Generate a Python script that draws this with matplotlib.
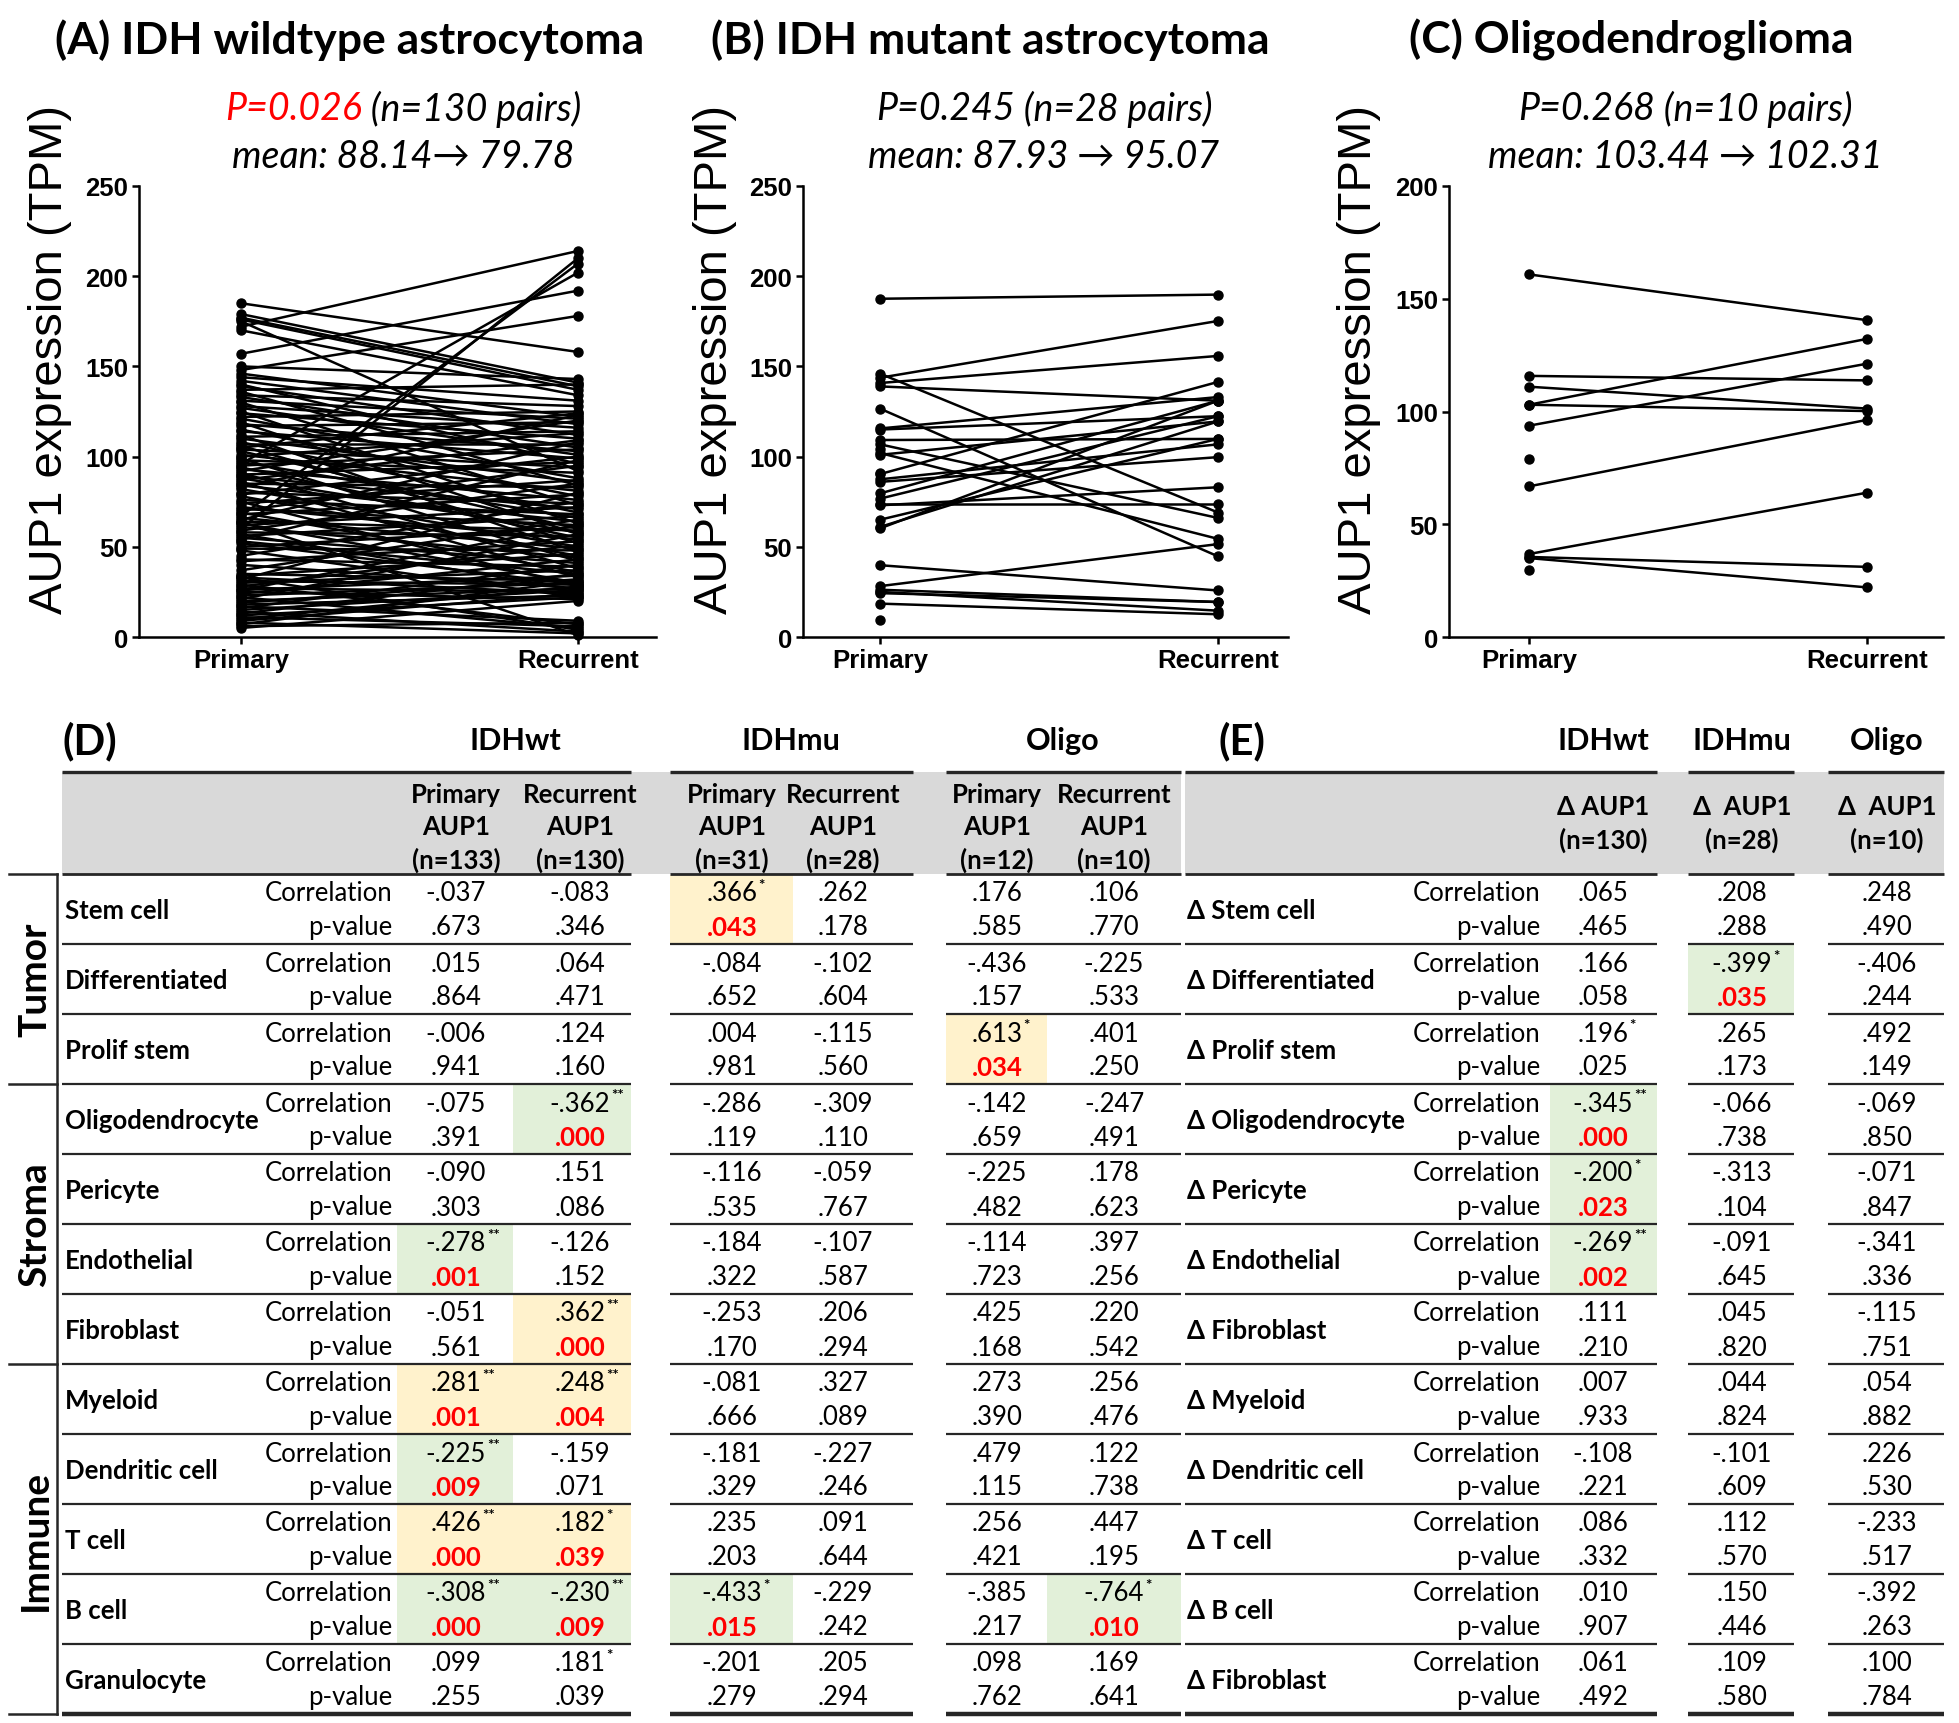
import matplotlib
matplotlib.use('Agg')
import matplotlib.pyplot as plt
import numpy as np
from matplotlib.patches import Rectangle

W, H = 1959, 1724
plt.rcParams['font.family'] = ['Lato', 'DejaVu Sans']

# ---------------- data: paired plots ----------------
primary_A = [185, 179, 177, 176, 175, 172, 170, 157, 150, 148, 146, 144, 142, 140, 139, 137, 136, 134, 133, 131,
             130, 128, 127, 125, 124, 122, 121, 119, 118, 117, 115, 114, 112, 111, 110, 108, 107, 106, 105, 104,
             103, 101, 100, 99, 98, 97, 96, 95, 94, 93, 92, 91, 90, 89, 88, 87, 86, 85, 84, 83,
             82, 80, 79, 78, 76, 75, 74, 72, 71, 70, 69, 68, 66, 65, 64, 63, 62, 61, 60, 59,
             58, 57, 56, 55, 54, 53, 50, 49, 48, 45, 43, 42, 40, 37, 35, 34, 33, 32, 31, 30,
             29, 28, 27, 26, 25, 24, 23, 22, 21, 20, 19, 18, 17, 16, 15, 14, 13, 12, 11, 10,
             9, 8, 7, 6, 5, 33, 64, 52, 26, 67]
recurrent_A = [158, 141, 139, 137, 92, 214, 134, 192, 143, 178, 122, 131, 118, 96, 112, 140, 84, 128, 105, 121,
               73, 116, 101, 63, 110, 125, 88, 57, 103, 119, 78, 99, 47, 114, 86, 69, 107, 52, 124, 94,
               60, 81, 113, 42, 91, 66, 202, 104, 55, 76, 120, 38, 97, 71, 58, 109, 33, 83, 64, 123,
               50, 74, 100, 45, 68, 28, 87, 54, 62, 95, 36, 79, 49, 108, 59, 30, 72, 44, 210, 85,
               56, 26, 67, 41, 98, 35, 61, 48, 22, 75, 39, 53, 27, 65, 31, 46, 24, 80, 29, 37,
               7, 51, 25, 34, 21, 43, 30, 5, 57, 27, 32, 23, 9, 40, 26, 3, 35, 22, 6, 28,
               24, 2, 31, 8, 20, 4, 1, 29, 62, 207]
primary_only_A = []

primary_B = [187.5, 146, 143.7, 140.8, 138.9, 126.6, 115.6, 115, 109.2, 106.8, 102, 101, 90.3, 87.4, 86,
             79.6, 76.7, 73.8, 73, 65, 61, 60.2, 39.8, 28.2, 26.2, 25, 24.3, 18.5]
recurrent_B = [189.8, 69, 175.2, 155.8, 131, 44.7, 133, 122.4, 109.8, 66, 54.4, 119.5, 141.4, 106.8, 99.7,
               131, 122.4, 73.8, 83, 109.8, 119.5, 131, 25.8, 51.5, 19.4, 14.6, 19.4, 12.6]
primary_only_B = [9.7, 104, 91]

primary_C = [160.8, 115.8, 111, 103, 103, 93.7, 66.8, 36.8, 35.5, 35]
recurrent_C = [140.5, 113.8, 101.3, 132.2, 100.2, 121.2, 96.3, 64, 31.1, 22]
primary_only_C = [78.8, 29.8]

x_labels = ["Primary", "Recurrent"]
titles = ["(A) IDH wildtype astrocytoma", "(B) IDH mutant astrocytoma", "(C) Oligodendroglioma"]
p_texts = ["P=0.026", "P=0.245", "P=0.268"]
n_texts = [" (n=130 pairs)", " (n=28 pairs)", " (n=10 pairs)"]
mean_texts = ["mean: 88.14\u2192 79.78", "mean: 87.93 \u2192 95.07", "mean: 103.44 \u2192 102.31"]
p_colors = ["#FF0000", "black", "black"]
y_max = [250, 250, 200]

# ---------------- data: tables ----------------
cell_types = ["Stem cell", "Differentiated", "Prolif stem", "Oligodendrocyte", "Pericyte", "Endothelial",
              "Fibroblast", "Myeloid", "Dendritic cell", "T cell", "B cell", "Granulocyte"]
delta_types = ["\u0394 Stem cell", "\u0394 Differentiated", "\u0394 Prolif stem", "\u0394 Oligodendrocyte",
               "\u0394 Pericyte", "\u0394 Endothelial", "\u0394 Fibroblast", "\u0394 Myeloid",
               "\u0394 Dendritic cell", "\u0394 T cell", "\u0394 B cell", "\u0394 Fibroblast"]
sections = ["Tumor", "Stroma", "Immune"]
section_rows = [(0, 3), (3, 7), (7, 12)]

groups_D = ["IDHwt", "IDHmu", "Oligo"]
headers_D = [("Primary", "AUP1", "(n=133)"), ("Recurrent", "AUP1", "(n=130)"),
             ("Primary", "AUP1", "(n=31)"), ("Recurrent", "AUP1", "(n=28)"),
             ("Primary", "AUP1", "(n=12)"), ("Recurrent", "AUP1", "(n=10)")]
corr_D = [
    [-.037, -.083, .366, .262, .176, .106],
    [.015, .064, -.084, -.102, -.436, -.225],
    [-.006, .124, .004, -.115, .613, .401],
    [-.075, -.362, -.286, -.309, -.142, -.247],
    [-.090, .151, -.116, -.059, -.225, .178],
    [-.278, -.126, -.184, -.107, -.114, .397],
    [-.051, .362, -.253, .206, .425, .220],
    [.281, .248, -.081, .327, .273, .256],
    [-.225, -.159, -.181, -.227, .479, .122],
    [.426, .182, .235, .091, .256, .447],
    [-.308, -.230, -.433, -.229, -.385, -.764],
    [.099, .181, -.201, .205, .098, .169],
]
pval_D = [
    [.673, .346, .043, .178, .585, .770],
    [.864, .471, .652, .604, .157, .533],
    [.941, .160, .981, .560, .034, .250],
    [.391, .000, .119, .110, .659, .491],
    [.303, .086, .535, .767, .482, .623],
    [.001, .152, .322, .587, .723, .256],
    [.561, .000, .170, .294, .168, .542],
    [.001, .004, .666, .089, .390, .476],
    [.009, .071, .329, .246, .115, .738],
    [.000, .039, .203, .644, .421, .195],
    [.000, .009, .015, .242, .217, .010],
    [.255, .039, .279, .294, .762, .641],
]
highlight_D = [(0, 2, 'y'), (2, 4, 'y'), (3, 1, 'g'), (5, 0, 'g'), (6, 1, 'y'), (7, 0, 'y'), (7, 1, 'y'),
               (8, 0, 'g'), (9, 0, 'y'), (9, 1, 'y'), (10, 0, 'g'), (10, 1, 'g'), (10, 2, 'g'), (10, 5, 'g')]

groups_E = ["IDHwt", "IDHmu", "Oligo"]
headers_E = [("\u0394 AUP1", "(n=130)"), ("\u0394  AUP1", "(n=28)"), ("\u0394  AUP1", "(n=10)")]
corr_E = [
    [.065, .208, .248],
    [.166, -.399, -.406],
    [.196, .265, .492],
    [-.345, -.066, -.069],
    [-.200, -.313, -.071],
    [-.269, -.091, -.341],
    [.111, .045, -.115],
    [.007, .044, .054],
    [-.108, -.101, .226],
    [.086, .112, -.233],
    [.010, .150, -.392],
    [.061, .109, .100],
]
pval_E = [
    [.465, .288, .490],
    [.058, .035, .244],
    [.025, .173, .149],
    [.000, .738, .850],
    [.023, .104, .847],
    [.002, .645, .336],
    [.210, .820, .751],
    [.933, .824, .882],
    [.221, .609, .530],
    [.332, .570, .517],
    [.907, .446, .263],
    [.492, .580, .784],
]
highlight_E = [(1, 1, 'g'), (3, 0, 'g'), (4, 0, 'g'), (5, 0, 'g')]

HL = {'y': '#FFF2CC', 'g': '#E2F0D9'}
RED = '#FF0000'
LINEC = '#262626'

# ---------------- figure ----------------
fig = plt.figure(figsize=(W / 100, H / 100), dpi=100)
fig.patch.set_facecolor('white')


def fx(x):
    return x / W


def fy(y):
    return 1 - y / H


def axes_px(l, r, t, b):
    return fig.add_axes([l / W, 1 - b / H, (r - l) / W, (b - t) / H])


renderer = fig.canvas.get_renderer()


def rich_center(x, y, parts, **kw):
    texts, widths = [], []
    for s, c in parts:
        t = fig.text(0, 0, s, color=c, ha='left', va='center', **kw)
        widths.append(t.get_window_extent(renderer).width)
        texts.append(t)
    start = x - sum(widths) / 2
    for t, w in zip(texts, widths):
        t.set_position((fx(start), fy(y)))
        start += w


# layout (pixels) for the three plots
plot_layout = [
    dict(l=139, r=656, p=241, rc=578, tx=350, sx=403, yl=50),
    dict(l=803, r=1288, p=880, rc=1218, tx=990, sx=1044, yl=715),
    dict(l=1449, r=1943, p=1529, rc=1867, tx=1631, sx=1685, yl=1359),
]
plot_data = [(primary_A, recurrent_A, primary_only_A),
             (primary_B, recurrent_B, primary_only_B),
             (primary_C, recurrent_C, primary_only_C)]
TOP, BOT = 187, 638

for i, (lay, (prim, rec, only)) in enumerate(zip(plot_layout, plot_data)):
    ax = axes_px(lay['l'], lay['r'], TOP, BOT)
    ax.set_facecolor('none')
    for p, r in zip(prim, rec):
        ax.plot([0, 1], [p, r], color='black', lw=1.8, marker='o', ms=6.5, clip_on=False)
    if len(only):
        ax.plot(np.zeros(len(only)), only, 'o', color='black', ms=6.5, clip_on=False)
    span = lay['rc'] - lay['p']
    ax.set_xlim((lay['l'] - lay['p']) / span, (lay['r'] - lay['p']) / span)
    ax.set_ylim(0, y_max[i])
    ax.set_yticks(np.arange(0, y_max[i] + 1, 50))
    ax.set_xticks([0, 1])
    ax.set_xticklabels(x_labels)
    for s in ['top', 'right']:
        ax.spines[s].set_visible(False)
    for s in ['left', 'bottom']:
        ax.spines[s].set_linewidth(1.8)
    ax.tick_params(direction='out', length=5, width=1.8, labelsize=18.5, pad=3)
    for lab in ax.get_xticklabels() + ax.get_yticklabels():
        lab.set_fontfamily('Liberation Sans')
        lab.set_fontweight('bold')
    fig.text(fx(lay['yl']), fy(359), "AUP1 expression (TPM)", rotation=90, ha='center', va='center',
             fontsize=34, family='Liberation Sans')
    fig.text(fx(lay['tx']), fy(40), titles[i], ha='center', va='center', fontsize=32, fontweight='bold')
    rich_center(lay['sx'], 109, [(p_texts[i], p_colors[i]), (n_texts[i], 'black')],
                fontsize=27, style='italic')
    fig.text(fx(lay['sx']), fy(157), mean_texts[i], ha='center', va='center', fontsize=27, style='italic')

# ---------------- tables ----------------
axt = fig.add_axes([0, 0, 1, 1], zorder=-5)
axt.set_xlim(0, W)
axt.set_ylim(H, 0)
axt.axis('off')

ROW0, RH = 875, 70
HTOP = 773
NR = len(cell_types)
FS = 18.5


def fmt(v):
    s = f"{v:.3f}"
    return s.replace("0.", ".", 1)


def stars(p):
    return "**" if p < 0.01 else ("*" if p < 0.05 else "")


def draw_value(x, y, txt, color='black', weight='normal', star=""):
    t = fig.text(fx(x), fy(y), txt, ha='center', va='center', fontsize=FS, color=color, fontweight=weight)
    if star:
        bb = t.get_window_extent(renderer)
        fig.text(bb.x1 / W + 0.0005, (bb.y1 + 2) / H, star, ha='left', va='top', fontsize=11,
                 fontweight='bold')


def draw_table(segs, val_x, cells, corr, pval, hls, labels, lab_x, cr_x, gray_l, gray_r):
    axt.add_patch(Rectangle((gray_l, HTOP), gray_r - gray_l, ROW0 - HTOP, color='#D9D9D9', lw=0, zorder=0))
    for (r, c, k) in hls:
        x0, x1 = cells[c]
        axt.add_patch(Rectangle((x0, ROW0 + r * RH + 1), x1 - x0, RH - 2, color=HL[k], lw=0, zorder=0))
    for (a, b) in segs:
        axt.plot([a, b], [HTOP, HTOP], color=LINEC, lw=2.4, solid_capstyle='butt')
        axt.plot([a, b], [ROW0, ROW0], color=LINEC, lw=2.0, solid_capstyle='butt')
        for r in range(1, NR):
            axt.plot([a, b], [ROW0 + r * RH] * 2, color=LINEC, lw=1.6, solid_capstyle='butt')
        axt.plot([a, b], [ROW0 + NR * RH] * 2, color=LINEC, lw=3.2, solid_capstyle='butt')
    hl_set = {(r, c) for (r, c, k) in hls}
    for r in range(NR):
        top = ROW0 + r * RH
        fig.text(fx(lab_x), fy(top + 36), labels[r], ha='left', va='center', fontsize=FS, fontweight='bold')
        fig.text(fx(cr_x), fy(top + 19), "Correlation", ha='right', va='center', fontsize=FS)
        fig.text(fx(cr_x), fy(top + 53), "p-value", ha='right', va='center', fontsize=FS)
        for c, x in enumerate(val_x):
            p = pval[r][c]
            draw_value(x, top + 19, fmt(corr[r][c]), star=stars(p))
            if (r, c) in hl_set:
                draw_value(x, top + 53, fmt(p), color=RED, weight='bold')
            else:
                draw_value(x, top + 53, fmt(p))


# Table D
val_x_D = [456, 580, 732, 843, 997, 1114]
cells_D = [(397, 513), (513, 631), (670, 793), (793, 913), (946, 1047), (1047, 1181)]
segs_D = [(62, 631), (670, 913), (946, 1181)]
group_x_D = [515, 791, 1063]
draw_table(segs_D, val_x_D, cells_D, corr_D, pval_D, highlight_D, cell_types, 65, 392, 62, 1181)
for g, x in zip(groups_D, group_x_D):
    fig.text(fx(x), fy(741), g, ha='center', va='center', fontsize=22, fontweight='bold')
for (h1, h2, h3), x in zip(headers_D, val_x_D):
    for s, y in zip((h1, h2, h3), (795, 827, 860)):
        fig.text(fx(x), fy(y), s, ha='center', va='center', fontsize=FS, fontweight='bold')
fig.text(fx(62), fy(741), "(D)", ha='left', va='center', fontsize=30, fontweight='bold')

# section bracket
axt.plot([57, 57], [ROW0, ROW0 + NR * RH], color=LINEC, lw=1.8)
for y in [ROW0, ROW0 + 3 * RH, ROW0 + 7 * RH, ROW0 + NR * RH]:
    axt.plot([9, 57], [y, y], color=LINEC, lw=1.8)
for name, (a, b) in zip(sections, section_rows):
    yc = ROW0 + (a + b) / 2 * RH
    fig.text(fx(35), fy(yc), name, rotation=90, ha='center', va='center', fontsize=28, fontweight='bold')

# Table E
val_x_E = [1603, 1742, 1887]
cells_E = [(1550, 1657), (1688, 1794), (1828, 1944)]
segs_E = [(1185, 1657), (1688, 1794), (1828, 1944)]
draw_table(segs_E, val_x_E, cells_E, corr_E, pval_E, highlight_E, delta_types, 1187, 1540, 1185, 1944)
for g, x in zip(groups_E, val_x_E):
    fig.text(fx(x), fy(741), g, ha='center', va='center', fontsize=22, fontweight='bold')
for (h1, h2), x in zip(headers_E, val_x_E):
    fig.text(fx(x), fy(807), h1, ha='center', va='center', fontsize=FS, fontweight='bold')
    fig.text(fx(x), fy(840), h2, ha='center', va='center', fontsize=FS, fontweight='bold')
fig.text(fx(1218), fy(741), "(E)", ha='left', va='center', fontsize=30, fontweight='bold')

fig.savefig("out.png", dpi=100, facecolor='white')
